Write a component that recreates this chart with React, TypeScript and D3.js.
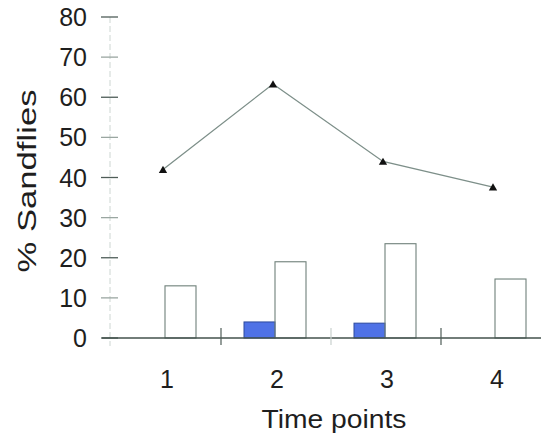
import React from "react";
import * as d3 from "d3";

const categories = ["1", "2", "3", "4"];
const blueValues = [0, 4, 3.7, 0];
const openValues = [13, 19, 23.5, 14.7];
const lineValues = [42, 63.3, 44, 37.6];
const yTicks = [0, 10, 20, 30, 40, 50, 60, 70, 80];

const W = 541;
const H = 447;

export default function App() {
  const x = d3.scaleBand<string>().domain(categories).range([111, 551]).paddingInner(0).paddingOuter(0);
  const y = d3.scaleLinear().domain([0, 80]).range([338, 17]);
  const bw = x.bandwidth();
  const barW = 31;
  const cx = (c: string) => (x(c) as number) + bw / 2;

  const lineGen = d3
    .line<number>()
    .x((_, i) => cx(categories[i]) - 3)
    .y((d) => y(d));

  const tri = d3.symbol().type(d3.symbolTriangle).size(30)() as string;
  const font = "'Liberation Sans', Arial, Helvetica, sans-serif";

  return (
    <svg width={W} height={H} style={{ position: "absolute", left: 0, top: 0, background: "#fff" }}>
      <rect x={0} y={0} width={W} height={H} fill="#fff" />
      {/* y axis faint line */}
      <line x1={110} x2={110} y1={y(80)} y2={346} stroke="#cdd6d2" strokeWidth={1} strokeDasharray="6,3" />
      {yTicks.map((t) => (
        <g key={t}>
          <line x1={101} x2={118} y1={y(t)} y2={y(t)} stroke={t % 20 === 0 ? "#4f5d58" : "#9aa6a1"} strokeWidth={1.3} />
          <text
            x={87}
            y={y(t)}
            textAnchor="end"
            dominantBaseline="central"
            fontFamily={font}
            fontSize={25}
            fill="#1e1e1e"
          >
            {t}
          </text>
        </g>
      ))}
      {/* bars */}
      {categories.map((c, i) => (
        <g key={c}>
          {blueValues[i] > 0 && (
            <rect
              x={cx(c) - barW - 1}
              y={y(blueValues[i])}
              width={barW}
              height={y(0) - y(blueValues[i])}
              fill="#4f72e6"
              stroke="#2d4a9e"
              strokeWidth={1}
            />
          )}
          <rect
            x={cx(c) - 1}
            y={y(openValues[i])}
            width={barW}
            height={y(0) - y(openValues[i])}
            fill="none"
            stroke="#6f807a"
            strokeWidth={1.1}
          />
        </g>
      ))}
      {/* x axis */}
      <line x1={102} x2={W} y1={y(0)} y2={y(0)} stroke="#43524d" strokeWidth={1.6} />
      {[1, 2, 3].map((k) => (
        <line
          key={k}
          x1={x(categories[k]) as number}
          x2={x(categories[k]) as number}
          y1={328}
          y2={345}
          stroke={k === 2 ? "#c9d1ce" : "#4f5d58"}
          strokeWidth={1.2}
        />
      ))}
      {categories.map((c) => (
        <text key={c} x={cx(c) + 1} y={388} textAnchor="middle" fontFamily={font} fontSize={25} fill="#1e1e1e">
          {c}
        </text>
      ))}
      {/* line series */}
      <path d={lineGen(lineValues) as string} fill="none" stroke="#7d8f89" strokeWidth={1.3} />
      {lineValues.map((v, i) => (
        <path key={i} d={tri} transform={`translate(${cx(categories[i]) - 3},${y(v) + 1})`} fill="#111" />
      ))}
      {/* titles */}
      <text x={334} y={428} textAnchor="middle" fontFamily={font} fontSize={26} fill="#1e1e1e" textLength={145} lengthAdjust="spacingAndGlyphs">
        Time points
      </text>
      <text
        transform={`translate(36,181) rotate(-90)`}
        textAnchor="middle"
        fontFamily={font}
        fontSize={25}
        fill="#1e1e1e"
        textLength={183}
        lengthAdjust="spacingAndGlyphs"
      >
        % Sandflies
      </text>
    </svg>
  );
}
